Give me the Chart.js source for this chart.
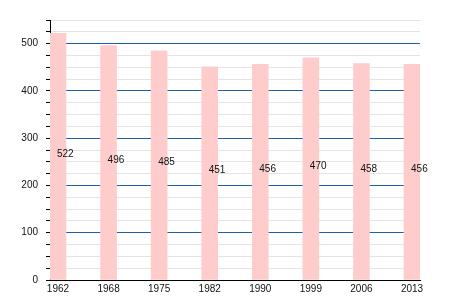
<!DOCTYPE html>
<html>
<head>
<meta charset="utf-8">
<script src="https://cdn.jsdelivr.net/npm/chart.js@4"></script>
<style>
  html, body { margin: 0; padding: 0; background: #fff; }
  #wrap { width: 450px; height: 300px; }
</style>
</head>
<body>
<div id="wrap"><canvas id="myChart" width="450" height="300"></canvas></div>
<script>
const years = ['1962', '1968', '1975', '1982', '1990', '1999', '2006', '2013'];
const population = [522, 496, 485, 451, 456, 470, 458, 456];
const yTicks = [0, 100, 200, 300, 400, 500];
const yGridSteps = [0, 25, 50, 75, 100, 125, 150, 175, 200, 225, 250, 275, 300, 325, 350, 375, 400, 425, 450, 475, 500, 525, 550];

// value written at mid-height of each bar, starting from the bar centre
const midLabels = {
    id: 'midLabels',
    afterDatasetsDraw(chart) {
        const ctx = chart.ctx;
        const meta = chart.getDatasetMeta(0);
        const yScale = chart.scales.y;
        ctx.save();
        ctx.font = '10px "Liberation Sans", Arial, sans-serif';
        ctx.fillStyle = '#111';
        ctx.textAlign = 'left';
        ctx.textBaseline = 'alphabetic';
        population.forEach((v, i) => {
            const bar = meta.data[i];
            ctx.fillText(String(v), bar.x - 1, yScale.getPixelForValue(v / 2));
        });
        ctx.restore();
    }
};

// hundreds in blue, quarter steps in light grey
const gridColors = yGridSteps.map(v => v === 0 ? '#000' : (v % 100 === 0 ? '#1a62a6' : '#e4e4e4'));

const ctx = document.getElementById('myChart');

const myChart = new Chart(ctx, {
    type: 'bar',
    data: {
        datasets: [{
            data: population.map((v, i) => ({ x: i, y: v })),
            backgroundColor: 'rgb(255, 204, 204)',
            borderWidth: 0,
            barThickness: 16
        }]
    },
    options: {
        responsive: false,
        animation: false,
        layout: {
            padding: { top: 20, right: 30, left: 0, bottom: 0 }
        },
        plugins: {
            legend: { display: false },
            tooltip: { enabled: false }
        },
        scales: {
            x: {
                type: 'linear',
                offset: false,
                min: -0.158,
                max: years.length - 1 + 0.158,
                afterBuildTicks: scale => {
                    scale.ticks = years.map((y, i) => ({ value: i }));
                },
                afterFit: scale => { scale.height = 20; },
                grid: { display: false, drawTicks: false },
                border: { display: true, color: '#000', width: 1 },
                ticks: {
                    padding: 3,
                    color: '#111',
                    font: { size: 10, family: '"Liberation Sans", Arial, sans-serif' },
                    callback: (val) => years[val]
                }
            },
            y: {
                min: 0,
                max: 550,
                afterBuildTicks: scale => {
                    scale.ticks = yGridSteps.map(v => ({ value: v }));
                },
                afterFit: scale => { scale.width = 50; },
                border: { display: true, color: '#000', width: 1 },
                grid: {
                    color: gridColors,
                    tickColor: '#000',
                    tickLength: 4,
                    lineWidth: 1
                },
                ticks: {
                    padding: 8,
                    color: '#111',
                    font: { size: 10, family: '"Liberation Sans", Arial, sans-serif' },
                    autoSkip: false,
                    callback: (val) => yTicks.includes(val) ? String(val) : ''
                }
            }
        }
    },
    plugins: [midLabels]
});
</script>
</body>
</html>
